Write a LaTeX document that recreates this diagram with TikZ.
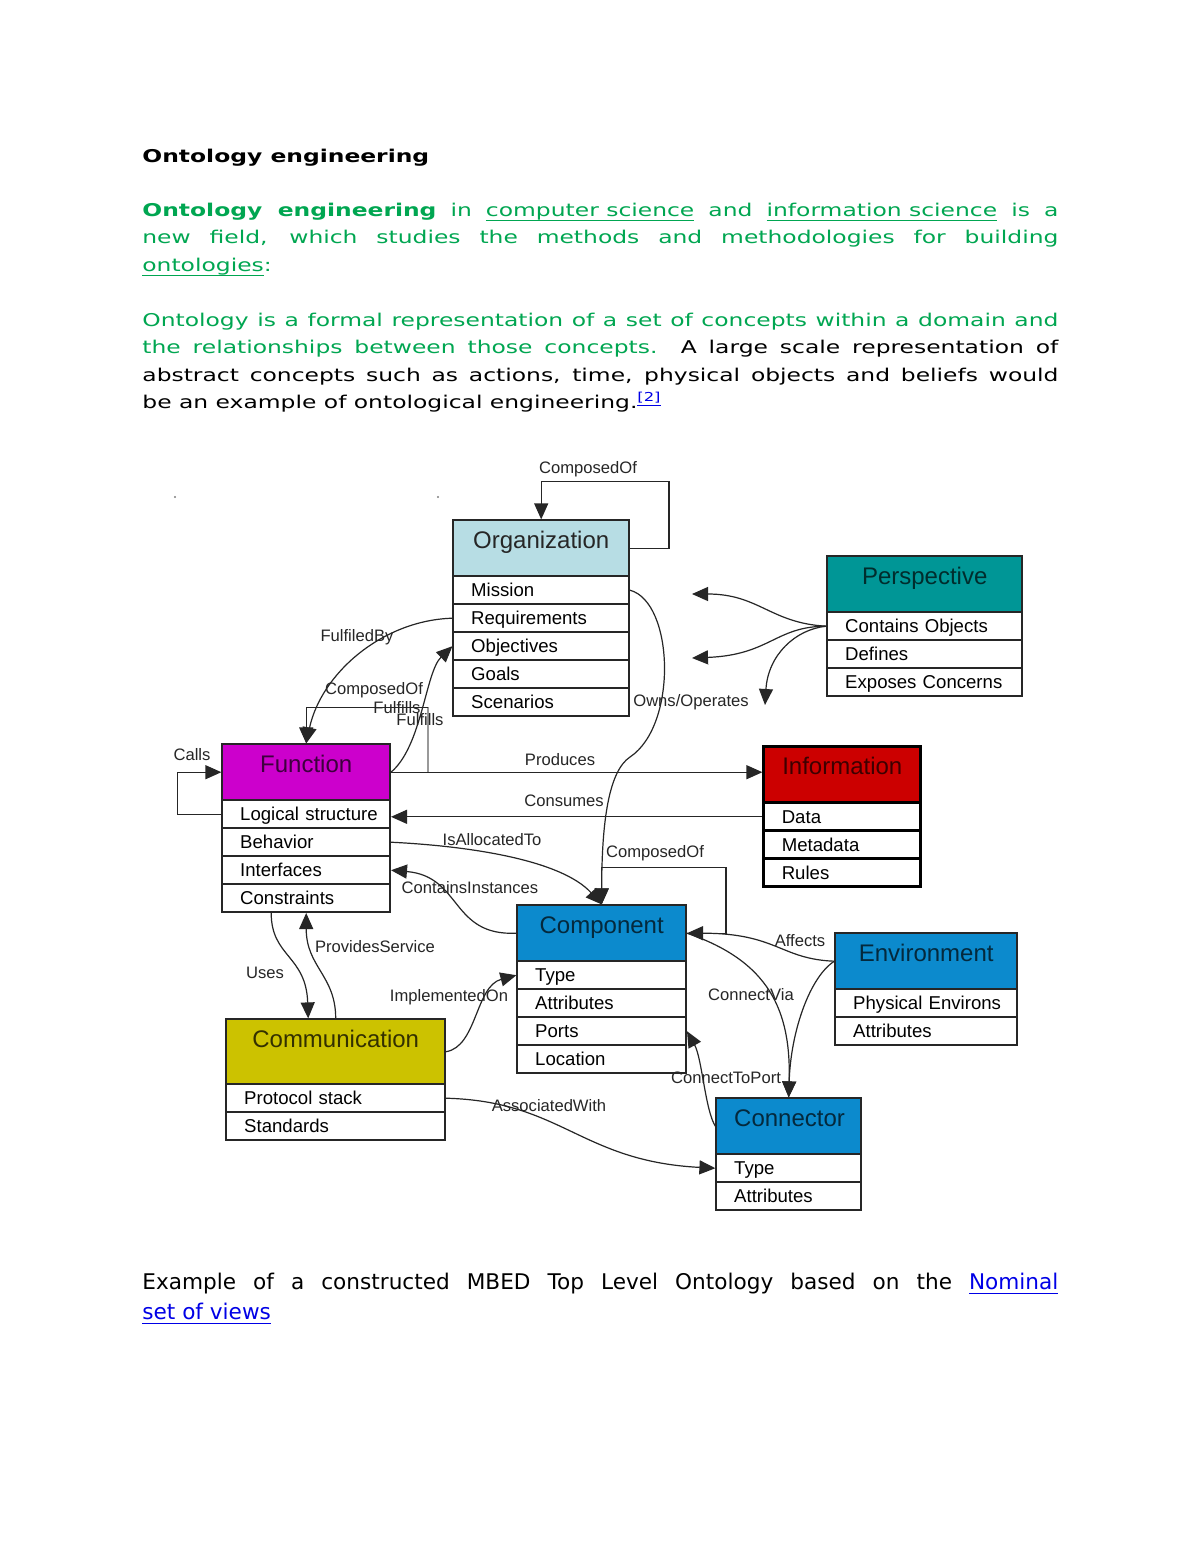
\documentclass[tikz,border=0pt]{standalone}
\usepackage{fontspec}
\usetikzlibrary{matrix,arrows.meta}

\setmainfont{DejaVu Sans}[FakeStretch=1.33]
\newfontfamily\capsans{DejaVu Sans}
\newfontfamily\boxsans{Liberation Sans}

\definecolor{txtgreen}{RGB}{0,166,81}
\definecolor{linkblue}{RGB}{0,0,230}
\definecolor{orgblue}{RGB}{183,221,228}
\definecolor{perspteal}{RGB}{0,150,150}
\definecolor{funmagenta}{RGB}{204,0,204}
\definecolor{infored}{RGB}{204,0,0}
\definecolor{compblue}{RGB}{12,138,205}
\definecolor{commyellow}{RGB}{204,194,0}

\newcommand\bodytext{\fontsize{8.8}{13.75}\selectfont}
\newcommand\captext{\capsans\fontsize{10.8}{15}\selectfont}
\newcommand\boxrowfont{\boxsans\fontsize{9.3}{11}\selectfont\hyphenpenalty=10000\relax}
\newcommand\boxheadfont{\boxsans\fontsize{12}{14}\selectfont}
\newcommand\relfont{\boxsans\fontsize{8.3}{10}\selectfont}
\newcommand\lnk[1]{\setbox0\hbox{#1}\rlap{\rule[-2.3pt]{\wd0}{0.5pt}}\box0\relax}

\tikzset{
    bodytxt/.style={anchor=north west, inner sep=0pt, text width=458pt, align=justify, font=\bodytext},
    cls/.style={matrix of nodes, anchor=north west, inner sep=0pt, row sep=-0.8pt,
        nodes={draw=black!85, line width=0.8pt, fill=white, inner xsep=9pt, inner ysep=0pt,
            text width=#1, align=left, font=\boxrowfont, text height=10.3pt, text depth=3.7pt}},
    head/.style={fill=#1, text=#1!30!black, align=center, font=\boxheadfont,
        text height=14pt, text depth=14pt},
    rel/.style={draw=black!85, line width=0.6pt, -{Triangle[length=8pt,width=7pt]}},
    link/.style={draw=black!85, line width=0.6pt},
    lbl/.style={font=\relfont, inner sep=0pt, text=black!85}
}

\begin{document}
\begin{tikzpicture}[x=0.5pt, y=0.5pt]

    \fill[white] (0,0) rectangle (1200,-1553);

    % text of the page
    \node[bodytxt] (title) at (142,-142.5) {\strut\textbf{Ontology engineering}};
    \node[bodytxt, text=txtgreen] (para1) at (142,-196.75) {\strut\textbf{Ontology engineering} in \lnk{computer science} and \lnk{information science} is a\linebreak new field, which studies the methods and methodologies for building\linebreak \lnk{ontologies}:};
    \node[bodytxt] (para2) at (142,-306.75) {\strut\textcolor{txtgreen}{Ontology is a formal representation of a set of concepts within a domain and\linebreak the relationships between those concepts.} A large scale representation of\linebreak abstract concepts such as actions, time, physical objects and beliefs would\linebreak be an example of ontological engineering.\textsuperscript{\textcolor{linkblue}{\lnk{[2]}}}};
    \node[bodytxt, font=\captext] (caption) at (142,-1268.3) {\strut Example of a constructed MBED Top Level Ontology based on the \textcolor{linkblue}{\lnk{Nominal}}\linebreak \textcolor{linkblue}{\lnk{set of views}}};

    \fill[black!50] (175,-497) circle (1.2);
    \fill[black!50] (438,-497) circle (1.2);

    % classes
    \matrix (org) [cls=70pt] at (452,-519) {
        |[head=orgblue, text=black!85]| Organization \\
        Mission \\ Requirements \\ Objectives \\ Goals \\ Scenarios \\
    };
    \matrix (persp) [cls=79.5pt] at (826,-555) {
        |[head=perspteal]| Perspective \\
        Contains~Objects \\ Defines \\ Exposes~Concerns \\
    };
    \matrix (fun) [cls=66pt] at (221,-743) {
        |[head=funmagenta]| Function \\
        Logical~structure \\ Behavior \\ Interfaces \\ Constraints \\
    };
    \matrix (info) [cls=60.5pt, row sep=-1.4pt, nodes={line width=1.4pt, draw=black}] at (762,-745) {
        |[head=infored]| Information \\
        Data \\ Metadata \\ Rules \\
    };
    \matrix (comp) [cls=66.5pt] at (516,-904) {
        |[head=compblue]| Component \\
        Type \\ Attributes \\ Ports \\ Location \\
    };
    \matrix (env) [cls=73pt] at (834,-932) {
        |[head=compblue]| Environment \\
        Physical~Environs \\ Attributes \\
    };
    \matrix (comm) [cls=91.5pt] at (225,-1018) {
        |[head=commyellow, text=commyellow!25!black, text depth=18.5pt]| Communication \\
        Protocol~stack \\ Standards \\
    };
    \matrix (conn) [cls=54.5pt] at (715,-1097) {
        |[head=compblue]| Connector \\
        Type \\ Attributes \\
    };

    % free ends
    \coordinate (pv1) at (692,-594);
    \coordinate (pv2) at (692,-658);
    \coordinate (pv3) at (765,-705);
    \coordinate (ow) at (630,-757);

    % relations
    \draw[rel] (org-1-1.east) -- ++(39,0) -- ++(0,67) -| (org-1-1.north);
    \draw[link, black!40] (fun-1-1.east) -- ++(37,0) coordinate (fc) -- ++(0,65) coordinate (fc2);
    \draw[rel] (fc2) -| (fun-1-1.north);
    \draw[rel] (comp-1-1.east) -- ++(39,0) -- ++(0,66) -| (comp-1-1.north);
    \draw[rel] (fun-2-1.west) -- ++(-44,0) |- (fun-1-1.west);
    \draw[rel] (fun-1-1.east) -- (fun-1-1.east -| info-1-1.west);
    \draw[rel] (info-2-1.west) -- (info-2-1.west -| fun-2-1.east);
    \draw[rel] (org-3-1.west) .. controls +(-70,-2) and +(15,70) .. (fun-1-1.north);
    \draw[rel] (fun-1-1.east) .. controls +(31,26) and +(-27,-26) .. (org-4-1.west);
    \draw[rel] (org-2-1.east) .. controls +(44,-12) and +(48,32) .. (ow)
        .. controls +(-21,-14) and +(0,84) .. (comp-1-1.north);
    \draw[rel] (persp-2-1.west) .. controls +(-56,3) and +(67,0) .. (pv1);
    \draw[rel] (persp-2-1.west) .. controls +(-51,0) and +(78,3) .. (pv2);
    \draw[rel] (persp-2-1.west) .. controls +(-31,-3) and +(3,50) .. (pv3);
    \draw[rel] (fun-3-1.east) .. controls +(81,-4) and +(-40,44) .. (comp-1-1.north);
    \draw[rel] (comp-1-1.west) .. controls +(-66,-3) and +(71,-6) .. (fun-4-1.east);
    \draw[rel] ([xshift=-17.5pt]fun-5-1.south) .. controls +(0,-44) and +(-2,63) .. ([xshift=-13.75pt]comm-1-1.north);
    \draw[rel] (comm-1-1.north) .. controls +(0,43) and +(0,-54) .. (fun-5-1.south);
    \draw[rel] (comm-1-1.east) .. controls +(31,5) and +(-41,-11) .. (comp-2-1.west);
    \draw[rel] (comm-2-1.east) .. controls +(116,-3) and +(-135,7) .. (conn-2-1.west);
    \draw[rel] (env-1-1.west) .. controls +(-54,2) and +(90,0) .. (comp-1-1.east);
    \draw[rel] (comp-1-1.east) .. controls +(82,-28) and +(2.5,87) .. (conn-1-1.north);
    \draw[rel] (env-1-1.west) .. controls +(-24,-15) and +(2,67) .. (conn-1-1.north);
    \draw[rel] (conn-1-1.west) .. controls +(-10,15) and +(15,-27) .. (comp-4-1.east);

    % relation names
    \node[lbl] (l-orgcomp) at (588,-469) {ComposedOf};
    \node[lbl] (l-fby) at (357,-637) {FulfiledBy};
    \node[lbl] (l-funcomp) at (374,-690) {ComposedOf};
    \node[lbl] (l-ful1) at (397,-708) {Fulfills};
    \node[lbl] (l-ful2) at (420,-720) {Fulfills};
    \node[lbl] (l-calls) at (192,-755) {Calls};
    \node[lbl] (l-prod) at (560,-760) {Produces};
    \node[lbl] (l-cons) at (564,-801) {Consumes};
    \node[lbl] (l-owns) at (691,-702) {Owns/Operates};
    \node[lbl] (l-alloc) at (492,-840) {IsAllocatedTo};
    \node[lbl] (l-inst) at (470,-888) {ContainsInstances};
    \node[lbl] (l-compcomp) at (655,-853) {ComposedOf};
    \node[lbl] (l-uses) at (265,-973) {Uses};
    \node[lbl] (l-serv) at (375,-947) {ProvidesService};
    \node[lbl] (l-impl) at (449,-997) {ImplementedOn};
    \node[lbl] (l-aff) at (800,-941) {Affects};
    \node[lbl] (l-via) at (751,-995) {ConnectVia};
    \node[lbl] (l-port) at (726,-1078) {ConnectToPort};
    \node[lbl] (l-assoc) at (549,-1106) {AssociatedWith};

\end{tikzpicture}
\end{document}
